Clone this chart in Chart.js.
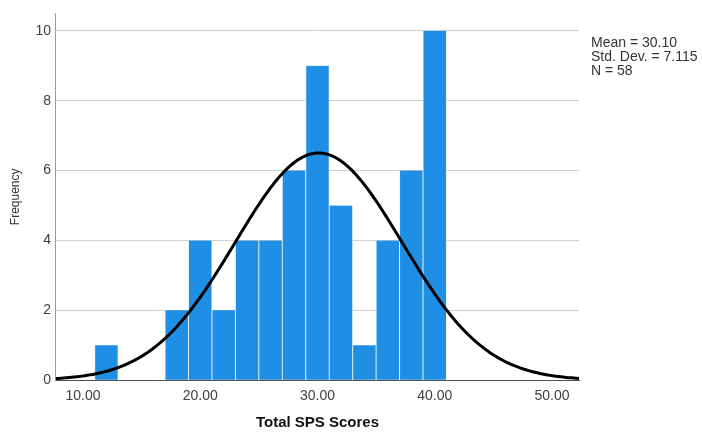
<!DOCTYPE html>
<html>
<head>
<meta charset="utf-8">
<title>Total SPS Scores</title>
<script src="https://cdn.jsdelivr.net/npm/chart.js@4/dist/chart.umd.min.js"></script>
<style>
  html, body { margin: 0; padding: 0; background: #ffffff; }
  #wrap { position: relative; width: 702px; height: 432px; }
  #stats {
    position: absolute; left: 591px; top: 35px;
    font: 14px "Liberation Sans", Arial, sans-serif;
    line-height: 14px; color: #333333; white-space: pre;
  }
</style>
</head>
<body>
<div id="wrap">
  <canvas id="chart" width="702" height="432"></canvas>
  <div id="stats"></div>
</div>
<script>
// Histogram bins: centre of each 2-point bin and its frequency
const binCenters = [12, 14, 16, 18, 20, 22, 24, 26, 28, 30, 32, 34, 36, 38, 40];
const frequencies = [1, 0, 0, 2, 4, 2, 4, 4, 6, 9, 5, 1, 4, 6, 10];
const binWidth = 2;

// Summary statistics shown beside the plot
const mean = 30.10;
const stdDev = 7.115;
const n = 58;

// Axis extents and tick labels
const xMin = 7.7, xMax = 52.3;
const yMax = 10.5;
const xTickValues = [10, 20, 30, 40, 50];

// Fitted normal curve, scaled to counts per bin
const curvePoints = [];
const steps = 200;
for (let i = 0; i <= steps; i++) {
  const x = xMin + (xMax - xMin) * i / steps;
  const z = (x - mean) / stdDev;
  const y = n * binWidth * Math.exp(-0.5 * z * z) / (stdDev * Math.sqrt(2 * Math.PI));
  curvePoints.push({ x, y });
}

document.getElementById('stats').textContent =
  'Mean = ' + mean.toFixed(2) + '\nStd. Dev. = ' + stdDev.toFixed(3) + '\nN = ' + n;

const font = '"Liberation Sans", Arial, sans-serif';

new Chart(document.getElementById('chart'), {
  type: 'bar',
  data: {
    datasets: [
      {
        type: 'line',
        data: curvePoints,
        borderColor: '#000000',
        borderWidth: 3,
        pointRadius: 0,
        fill: false,
        tension: 0,
        order: 0
      },
      {
        type: 'bar',
        data: binCenters.map((c, i) => ({ x: c, y: frequencies[i] })),
        backgroundColor: '#1f8fe5',
        borderColor: '#e6f2fc',
        borderWidth: { left: 0.8, right: 0.8, top: 0, bottom: 0 },
        borderSkipped: false,
        barPercentage: 1,
        categoryPercentage: 1,
        order: 1
      }
    ]
  },
  options: {
    responsive: false,
    animation: false,
    layout: { padding: { top: 9, right: 123, left: 4, bottom: 0 } },
    plugins: { legend: { display: false }, tooltip: { enabled: false } },
    scales: {
      x: {
        type: 'linear',
        min: xMin,
        max: xMax,
        offset: false,
        afterBuildTicks: (scale) => { scale.ticks = xTickValues.map(v => ({ value: v })); },
        ticks: {
          callback: (v) => Number(v).toFixed(2),
          font: { family: font, size: 14 },
          color: '#404040',
          padding: 8,
          maxRotation: 0
        },
        grid: { display: false, drawTicks: false },
        border: { display: true, color: '#505050', width: 1 },
        title: {
          display: true,
          text: 'Total SPS Scores',
          font: { family: font, size: 15, weight: 'bold' },
          color: '#111111',
          padding: { top: 1, bottom: 0 }
        }
      },
      y: {
        min: 0,
        max: yMax,
        ticks: {
          stepSize: 2,
          includeBounds: false,
          font: { family: font, size: 14 },
          color: '#404040',
          padding: 5
        },
        grid: { color: '#cfcfcf', lineWidth: 1, drawTicks: false },
        border: { display: true, color: '#9a9a9a', width: 1 },
        title: {
          display: true,
          text: 'Frequency',
          font: { family: font, size: 12 },
          color: '#333333',
          padding: { top: 4, bottom: 8 }
        }
      }
    }
  }
});
</script>
</body>
</html>
